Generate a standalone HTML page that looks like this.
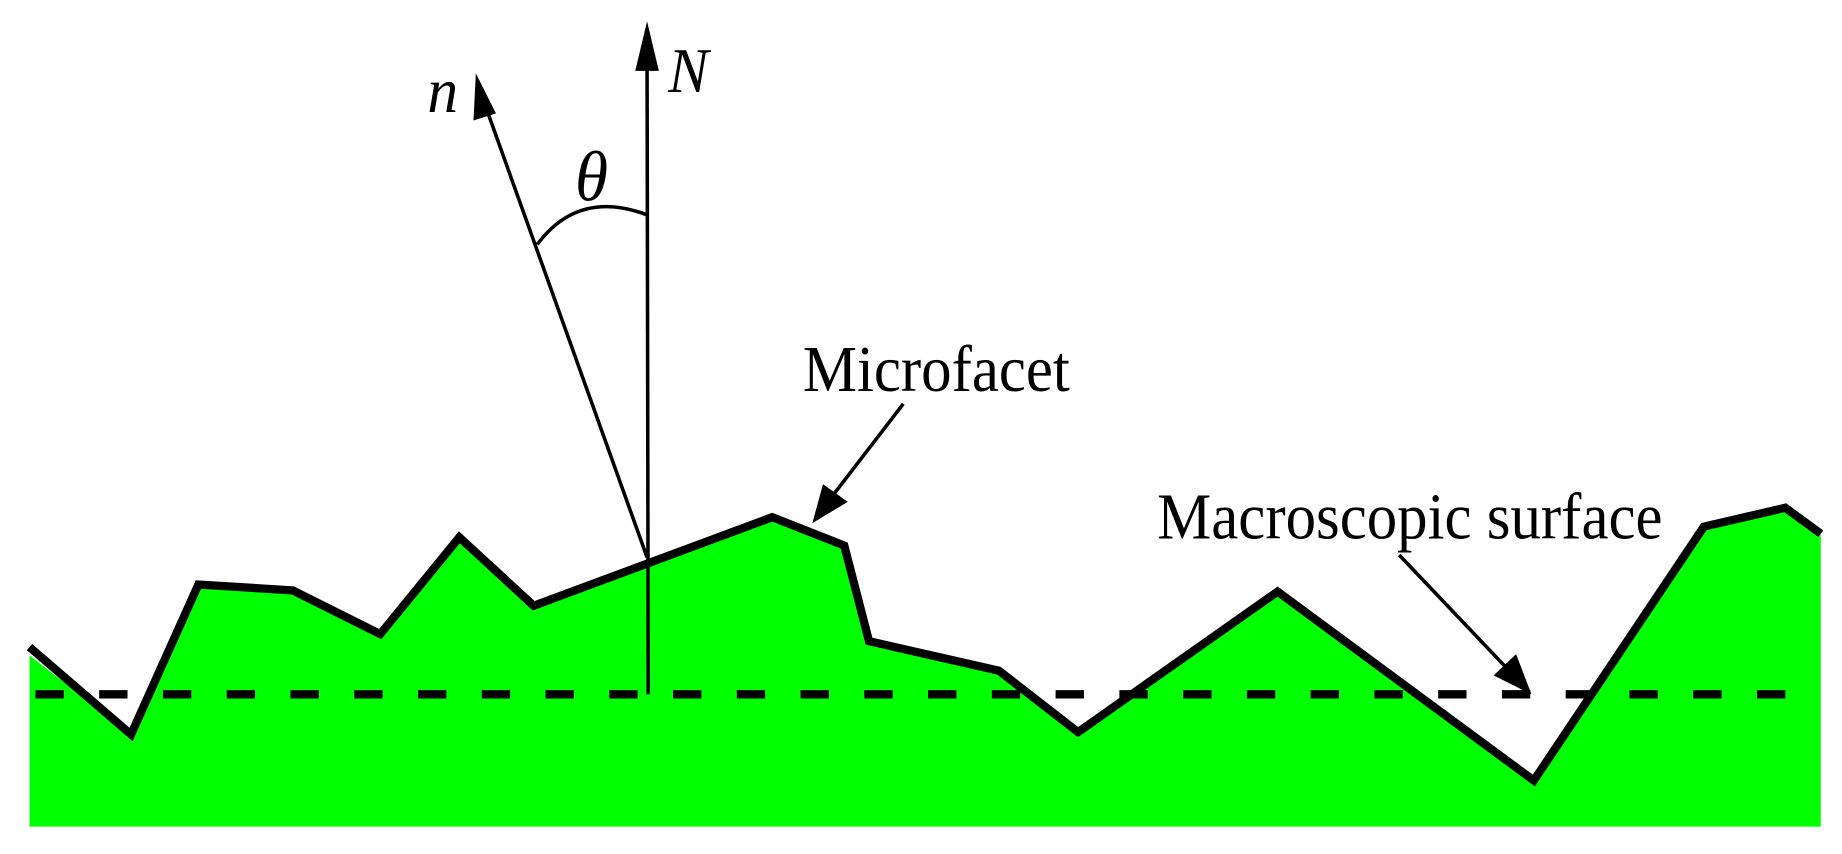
<!DOCTYPE html>
<html><head><style>html,body{margin:0;padding:0;background:#fff;overflow:hidden}</style></head>
<body>
<svg width="1842" height="849" viewBox="0 0 1560 719" preserveAspectRatio="none" xmlns="http://www.w3.org/2000/svg">
<polygon fill="#00ff00" points="25,555 111,622 168,495 248,500 322,537 389,455 452,513 654,438 715,462 736,543 846,568 913,620 1082,501 1299,661 1443,446 1512,430 1542,452 1542,700 25,700"/>
<line x1="30" y1="588" x2="1540" y2="588" stroke="#000" stroke-width="7" stroke-dasharray="24,30"/>
<polyline fill="none" stroke="#000" stroke-width="7" stroke-linejoin="miter" points="25,548 111,622 168,495 248,500 322,537 389,455 452,513 654,438 715,462 736,543 846,568 913,620 1082,501 1299,661 1443,446 1512,430 1542,452"/>
<line x1="549" y1="588" x2="548" y2="50" stroke="#000" stroke-width="3"/>
<polygon points="548,18 538,60 558,60" fill="#000"/>
<line x1="548" y1="472" x2="413" y2="95" stroke="#000" stroke-width="3"/>
<polygon points="403,62 401,102 420,96" fill="#000"/>
<path d="M455,207 Q490,160 548,182" fill="none" stroke="#000" stroke-width="3"/>
<text x="566" y="78" font-family="Liberation Serif, serif" font-style="italic" font-size="54" textLength="34" lengthAdjust="spacingAndGlyphs">N</text>
<text x="362" y="95" font-family="Liberation Serif, serif" font-style="italic" font-size="54" textLength="26" lengthAdjust="spacingAndGlyphs">n</text>
<text x="487" y="170" font-family="Liberation Serif, serif" font-style="italic" font-size="60" textLength="28" lengthAdjust="spacingAndGlyphs">θ</text>
<text x="680" y="331" font-family="Liberation Serif, serif" font-size="56" textLength="226" lengthAdjust="spacingAndGlyphs">Microfacet</text>
<text x="980" y="456" font-family="Liberation Serif, serif" font-size="56" textLength="428" lengthAdjust="spacingAndGlyphs">Macroscopic surface</text>
<line x1="765" y1="342" x2="705" y2="420" stroke="#000" stroke-width="3"/>
<polygon points="688,443 697,410 718,425" fill="#000"/>
<line x1="1185" y1="470" x2="1280" y2="570" stroke="#000" stroke-width="3"/>
<polygon points="1297,588 1265,572 1284,554" fill="#000"/>
</svg>
</body></html>
